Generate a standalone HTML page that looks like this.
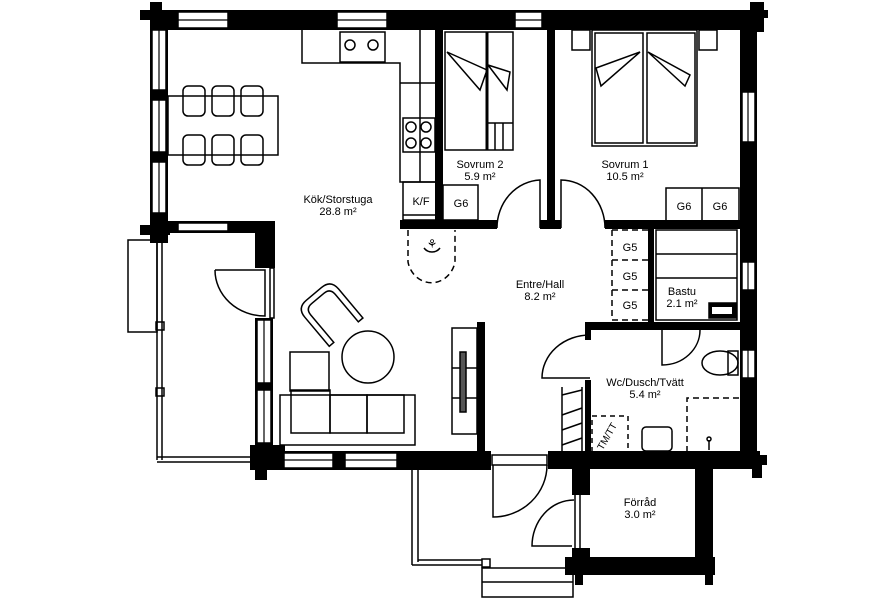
<!DOCTYPE html>
<html><head><meta charset="utf-8"><style>
html,body{margin:0;padding:0;background:#fff;}
svg{display:block;}
text{font-family:"Liberation Sans",sans-serif;font-size:11px;fill:#000;text-anchor:middle;}
</style></head><body>
<svg width="896" height="600" viewBox="0 0 896 600" xmlns="http://www.w3.org/2000/svg">
<g fill="#000" stroke="none">
<rect x="150" y="10" width="607" height="20"/>
<rect x="140" y="10" width="30" height="10"/>
<rect x="150" y="2" width="12" height="30"/>
<rect x="750" y="2" width="14" height="30"/>
<rect x="750" y="10" width="18" height="8"/>
<rect x="150" y="10" width="18" height="233"/>
<rect x="140" y="225" width="30" height="10"/>
<rect x="150" y="221" width="125" height="12"/>
<rect x="255" y="221" width="20" height="47"/>
<rect x="255" y="318" width="18" height="150"/>
<rect x="250" y="445" width="35" height="25"/>
<rect x="255" y="460" width="12" height="20"/>
<rect x="255" y="451" width="236" height="19"/>
<rect x="548" y="451" width="212" height="18"/>
<rect x="753" y="455" width="14" height="10"/>
<rect x="752" y="460" width="10" height="18"/>
<rect x="740" y="10" width="17" height="458"/>
<rect x="435" y="30" width="8" height="198"/>
<rect x="547" y="30" width="8" height="198"/>
<rect x="400" y="220" width="97" height="9"/>
<rect x="540" y="220" width="21" height="9"/>
<rect x="605" y="220" width="135" height="9"/>
<rect x="477" y="322" width="8" height="130"/>
<rect x="648" y="228" width="6" height="100"/>
<rect x="585" y="322" width="155" height="8"/>
<rect x="585" y="322" width="6" height="18"/>
<rect x="585" y="380" width="6" height="75"/>
<rect x="572" y="460" width="18" height="35"/>
<rect x="572" y="548" width="18" height="27"/>
<rect x="565" y="557" width="150" height="18"/>
<rect x="695" y="460" width="18" height="115"/>
<rect x="575" y="570" width="8" height="15"/>
<rect x="705" y="570" width="8" height="15"/>
</g>
<g fill="#fff" stroke="#000" stroke-width="1.5">
<rect x="178" y="12" width="50" height="16"/>
<rect x="337" y="12" width="50" height="16"/>
<rect x="515" y="12" width="27" height="16"/>
<rect x="178" y="223" width="50" height="8"/>
<rect x="152" y="30" width="14" height="60"/>
<rect x="152" y="100" width="14" height="52"/>
<rect x="152" y="162" width="14" height="51"/>
<rect x="742" y="92" width="13" height="50"/>
<rect x="742" y="262" width="13" height="28"/>
<rect x="742" y="350" width="13" height="28"/>
<rect x="257" y="320" width="14" height="63"/>
<rect x="257" y="390" width="14" height="53"/>
<rect x="284" y="453" width="49" height="15"/>
<rect x="345" y="453" width="52" height="15"/>
<rect x="270" y="268" width="4" height="50"/>
</g>
<g fill="none" stroke="#000" stroke-width="1.2">
<line x1="178" y1="20" x2="228" y2="20"/><line x1="337" y1="20" x2="387" y2="20"/><line x1="515" y1="20" x2="542" y2="20"/>
<line x1="159" y1="30" x2="159" y2="213"/>
<line x1="748" y1="92" x2="748" y2="142"/><line x1="748" y1="262" x2="748" y2="290"/><line x1="748" y1="350" x2="748" y2="378"/>
<line x1="264" y1="320" x2="264" y2="443"/>
<line x1="284" y1="460" x2="397" y2="460"/>
</g>
<g fill="none" stroke="#000" stroke-width="1.5">
<rect x="128" y="240" width="29" height="92"/>
<line x1="157" y1="240" x2="157" y2="460"/>
<line x1="162" y1="240" x2="162" y2="460"/>
<line x1="157" y1="457" x2="255" y2="457"/>
<line x1="157" y1="462" x2="255" y2="462"/>
<rect x="156" y="322" width="8" height="8"/>
<rect x="156" y="388" width="8" height="8"/>
<path d="M215 270 L265 270 L265 316 A50 46 0 0 1 215 270"/>
<line x1="412" y1="470" x2="412" y2="565"/>
<line x1="418" y1="470" x2="418" y2="562"/>
<line x1="412" y1="565" x2="482" y2="565"/>
<line x1="418" y1="560" x2="482" y2="560"/>
<rect x="482" y="559" width="8" height="8"/>
<rect x="482" y="568" width="91" height="29"/>
<line x1="482" y1="582" x2="573" y2="582"/>
<rect x="492" y="455" width="55" height="10"/>
<path d="M493 465 L493 517 A54 52 0 0 0 547 465"/>
<line x1="575" y1="495" x2="575" y2="548"/>
<line x1="580" y1="495" x2="580" y2="548"/>
<path d="M572 546 L532 546 A42 46 0 0 1 574 500"/>
<path d="M540 228 L540 180 A45 48 0 0 0 497 228"/>
<path d="M561 228 L561 180 A44 48 0 0 1 605 228"/>
<path d="M590 378 L542 378 A48 43 0 0 1 590 335"/>
<path d="M662 330 L662 365 A38 35 0 0 0 700 330"/>
<path d="M302 30 L302 63 L400 63 L400 182 L440 182"/>
<line x1="420" y1="30" x2="420" y2="182"/>
<rect x="340" y="32" width="45" height="30"/>
<circle cx="350" cy="45" r="5"/><circle cx="373" cy="45" r="5"/>
<line x1="400" y1="83" x2="435" y2="83"/>
<rect x="403" y="118" width="32" height="34"/>
<circle cx="411" cy="127" r="5"/><circle cx="426" cy="127" r="5"/>
<circle cx="411" cy="143" r="5"/><circle cx="426" cy="143" r="5"/>
<rect x="403" y="182" width="33" height="38"/>
<line x1="403" y1="215" x2="436" y2="215"/>
<rect x="443" y="185" width="35" height="35"/>
<rect x="168" y="96" width="110" height="59"/>
<rect x="183" y="86" width="22" height="30" rx="5"/>
<rect x="212" y="86" width="22" height="30" rx="5"/>
<rect x="241" y="86" width="22" height="30" rx="5"/>
<rect x="183" y="135" width="22" height="30" rx="5"/>
<rect x="212" y="135" width="22" height="30" rx="5"/>
<rect x="241" y="135" width="22" height="30" rx="5"/>
<circle cx="368" cy="357" r="26"/>
<g transform="rotate(-40 330 313)">
<path d="M308 338 L308 300 Q308 288 320 288 L340 288 Q352 288 352 300 L352 338 L346 338 L346 302 Q346 294 338 294 L322 294 Q314 294 314 302 L314 338 Z"/>
</g>
<rect x="280" y="395" width="135" height="50"/>
<rect x="291" y="390" width="39" height="43"/>
<rect x="330" y="395" width="37" height="38"/>
<rect x="367" y="395" width="37" height="38"/>
<rect x="290" y="352" width="39" height="39"/>
<rect x="452" y="328" width="25" height="106"/>
<line x1="452" y1="368" x2="477" y2="368"/>
<line x1="452" y1="398" x2="477" y2="398"/>
<rect x="460" y="352" width="6" height="60" fill="#555"/>
<path d="M408 230 L408 262 A24 26 0 0 0 455 262 L455 230" stroke-dasharray="6,4"/>
<path d="M424 248 A10 10 0 0 0 440 248"/>
<rect x="445" y="32" width="68" height="118"/>
<line x1="487" y1="32" x2="487" y2="150" stroke-width="3"/>
<line x1="487" y1="123" x2="513" y2="123"/>
<line x1="495" y1="123" x2="495" y2="150"/><line x1="503" y1="123" x2="503" y2="150"/>
<path d="M447 52 L487 70 L480 90 Z"/>
<path d="M488 65 L510 72 L507 90 Z"/>
<rect x="592" y="30" width="105" height="116"/>
<rect x="595" y="33" width="48" height="110"/>
<rect x="647" y="33" width="48" height="110"/>
<path d="M640 52 L596 68 L601 86 Z"/>
<path d="M648 52 L690 75 L685 86 Z"/>
<rect x="572" y="30" width="18" height="20"/>
<rect x="699" y="30" width="18" height="20"/>
<rect x="666" y="188" width="73" height="34"/>
<line x1="702" y1="188" x2="702" y2="222"/>
<rect x="656" y="230" width="81" height="90"/>
<line x1="656" y1="254" x2="737" y2="254"/>
<line x1="656" y1="278" x2="737" y2="278"/>
<rect x="709" y="303" width="27" height="15" fill="#000"/>
<ellipse cx="720" cy="363" rx="18" ry="12"/>
<rect x="728" y="351" width="10" height="24"/>
<rect x="642" y="427" width="30" height="24" rx="4"/>
<path d="M687 452 L687 398 L740 398" stroke-dasharray="6,4"/>
<line x1="709" y1="440" x2="709" y2="450"/><circle cx="709" cy="439" r="2"/>
<rect x="592" y="416" width="36" height="36" stroke-dasharray="5,4"/>
<line x1="562" y1="387" x2="562" y2="452"/>
<line x1="582" y1="387" x2="582" y2="452"/>
<line x1="562" y1="395" x2="582" y2="390"/>
<line x1="562" y1="415" x2="582" y2="408"/>
<line x1="562" y1="430" x2="582" y2="423"/>
<line x1="562" y1="445" x2="582" y2="438"/>
<path d="M612 230 L612 320 L648 320 M612 260 L648 260 M612 290 L648 290 M612 230 L648 230" stroke-dasharray="6,4"/>
</g>
<g fill="#fff"><rect x="712" y="307" width="20" height="7"/></g>
<text x="432" y="248" style="font-size:12px">⚘</text>
<text x="338" y="203">Kök/Storstuga</text>
<text x="338" y="215">28.8 m²</text>
<text x="480" y="168">Sovrum 2</text>
<text x="480" y="180">5.9 m²</text>
<text x="625" y="168">Sovrum 1</text>
<text x="625" y="180">10.5 m²</text>
<text x="540" y="288">Entre/Hall</text>
<text x="540" y="300">8.2 m²</text>
<text x="682" y="295">Bastu</text>
<text x="682" y="307">2.1 m²</text>
<text x="645" y="386">Wc/Dusch/Tvätt</text>
<text x="645" y="398">5.4 m²</text>
<text x="640" y="506">Förråd</text>
<text x="640" y="518">3.0 m²</text>
<text x="421" y="205">K/F</text>
<text x="461" y="207">G6</text>
<text x="684" y="210">G6</text>
<text x="720" y="210">G6</text>
<text x="630" y="251">G5</text>
<text x="630" y="280">G5</text>
<text x="630" y="309">G5</text>
<text x="610" y="438" transform="rotate(-60 610 438)" style="font-size:10px">TM/TT</text>
</svg>
</body></html>
